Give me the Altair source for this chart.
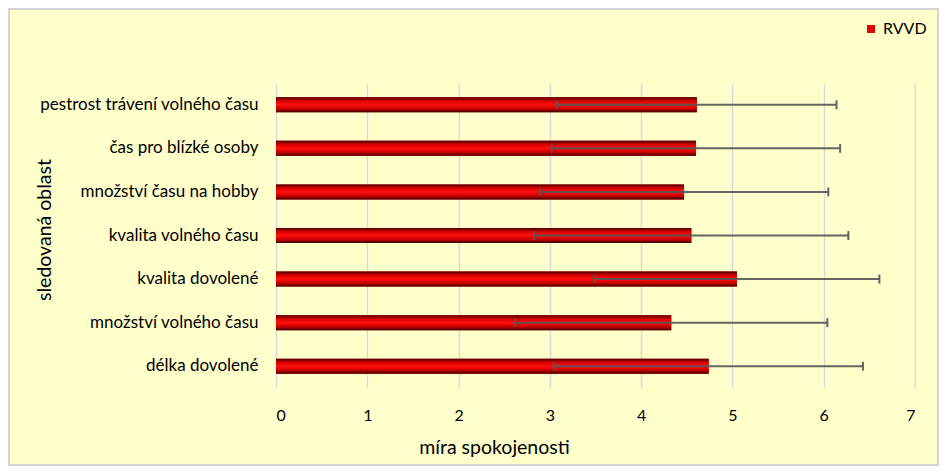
import altair as alt
import pandas as pd

categories = [
    "pestrost trávení volného času",
    "čas pro blízké osoby",
    "množství času na hobby",
    "kvalita volného času",
    "kvalita dovolené",
    "množství volného času",
    "délka dovolené",
]
means = [4.61, 4.60, 4.47, 4.55, 5.05, 4.33, 4.74]
sds = [1.53, 1.58, 1.58, 1.72, 1.56, 1.71, 1.69]
series_name = "RVVD"
x_ticks = [0, 1, 2, 3, 4, 5, 6, 7]

df = pd.DataFrame({
    "oblast": categories,
    "prumer": means,
    "sd": sds,
    "serie": [series_name] * len(categories),
})

FONT = "Lato"
X_TITLE = "míra spokojenosti"

y_enc = alt.Y(
    "oblast:N",
    sort=categories,
    title="sledovaná oblast",
    scale=alt.Scale(paddingInner=0.655, paddingOuter=0.3275),
    axis=alt.Axis(
        domain=False, ticks=False, tickSize=0, labelPadding=18, labelLimit=400,
        labelFontSize=17, titleFontSize=19.5,
        titleX=-226, titleY=146.5, titleBaseline="alphabetic", titleAngle=270,
    ),
)

x_scale = alt.Scale(domain=[0, 7], nice=False, zero=True)
x_axis = alt.Axis(
    values=x_ticks, format="d", grid=True, gridColor="#d9d9d9", gridWidth=1.5,
    domain=False, ticks=False, tickSize=0, labelPadding=19,
    labelFontSize=16, titleFontSize=19.5,
    titleX=218, titleY=65, titleBaseline="alphabetic", titleAlign="center",
)

base = alt.Chart(df)

border = alt.Chart(alt.Data(values=[{"k": 1}])).mark_rect(
    filled=False, stroke="#d4d4d4", strokeWidth=2
).encode(
    x=alt.value(-267), x2=alt.value(662), y=alt.value(-74), y2=alt.value(382)
)

bars_legend = base.mark_bar().encode(
    x=alt.X("prumer:Q", scale=x_scale, axis=x_axis, title=X_TITLE),
    y=y_enc,
    color=alt.Color(
        "serie:N",
        scale=alt.Scale(range=["#e00000"]),
        legend=alt.Legend(
            title=None, orient="none", legendX=587, legendY=-62,
            symbolType="square", symbolSize=64, symbolStrokeWidth=0,
            labelFontSize=16, labelFont=FONT, labelColor="#000000",
            padding=0, labelOffset=4,
        ),
    ),
)

grad = alt.Gradient(
    gradient="linear",
    stops=[
        alt.GradientStop(color="#4a0000", offset=0),
        alt.GradientStop(color="#d80000", offset=0.25),
        alt.GradientStop(color="#ff1010", offset=0.5),
        alt.GradientStop(color="#d00000", offset=0.75),
        alt.GradientStop(color="#400000", offset=1),
    ],
    x1=0, x2=0, y1=0, y2=1,
)

bars = base.mark_bar(color=grad).encode(
    x=alt.X("prumer:Q", scale=x_scale, title=X_TITLE),
    y=y_enc,
)

err_base = base.transform_calculate(
    lo="datum.prumer - datum.sd", hi="datum.prumer + datum.sd"
)

err_rule = err_base.mark_rule(color="#555555", strokeWidth=2, opacity=0.9).encode(
    x=alt.X("lo:Q", scale=x_scale, title=X_TITLE),
    x2="hi:Q",
    y=y_enc,
)

cap_lo = err_base.mark_tick(color="#555555", thickness=2, size=9, opacity=0.9).encode(
    x=alt.X("lo:Q", scale=x_scale, title=X_TITLE),
    y=y_enc,
)
cap_hi = err_base.mark_tick(color="#555555", thickness=2, size=9, opacity=0.9).encode(
    x=alt.X("hi:Q", scale=x_scale, title=X_TITLE),
    y=y_enc,
)

chart = alt.layer(
    border, bars_legend, bars, err_rule, cap_lo, cap_hi
).properties(
    width=639, height=305,
    padding={"left": 268, "top": 75, "right": 24, "bottom": 78},
    autosize=alt.AutoSizeParams(type="none"),
    background="#FFFFCC",
).configure_view(
    stroke=None
).configure_axis(
    labelFont=FONT, titleFont=FONT, labelColor="#000000", titleColor="#000000",
    titleFontWeight="normal",
)

chart.save("out.html", embed_options={"renderer": "svg", "actions": False})
